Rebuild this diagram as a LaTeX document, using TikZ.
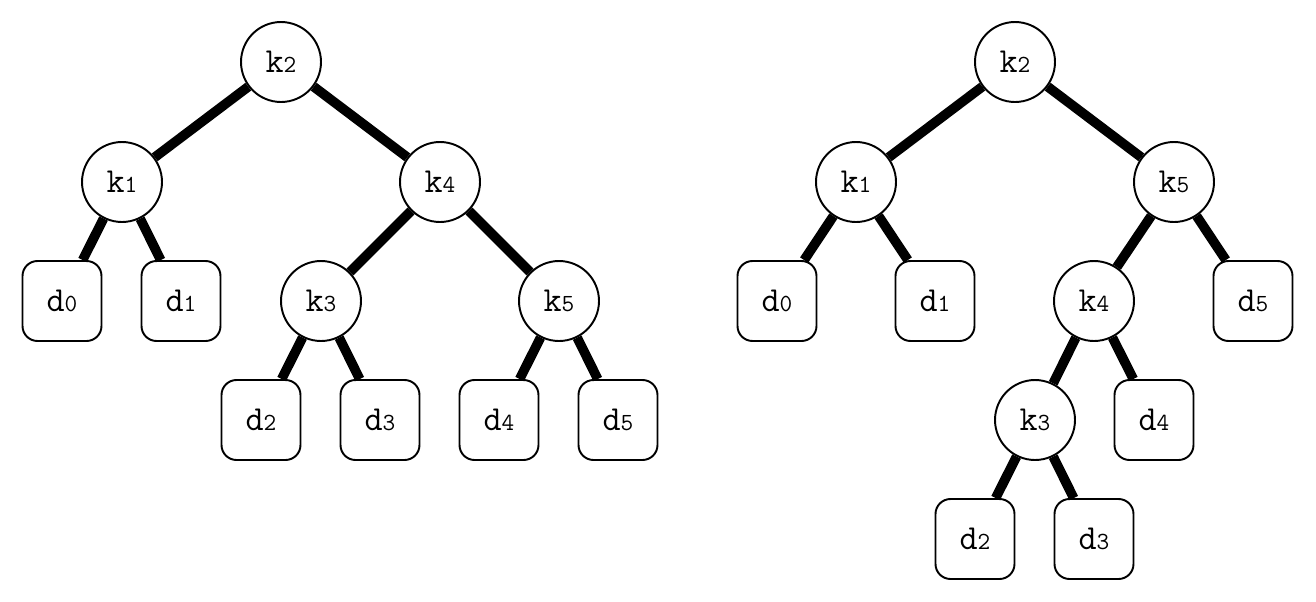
\documentclass[tikz,border=0pt]{standalone}
\usepackage{fontspec}
\usepackage{tikz}
\usetikzlibrary{positioning}
\tikzset{
    key/.style={circle, draw, line width=1.1pt, fill=white, minimum size=1.6cm, inner sep=0pt, font=\ttfamily\fontsize{20}{20}\selectfont},
    leaf/.style={rectangle, draw, line width=1.1pt, fill=white, rounded corners=0.3cm, minimum width=1.58cm, minimum height=1.6cm, inner sep=0pt, font=\ttfamily\fontsize{20}{20}\selectfont},
    edge/.style={line width=5.5pt}
}
\newcommand{\lbl}[2]{#1{\fontsize{14}{14}\selectfont#2}}

\begin{document}
\begin{tikzpicture}[x=0.02cm, y=-0.02cm]
\useasboundingbox (0,0) rectangle (1316,602);

% Left tree
\node[key] (lk2) at (281,62) {\lbl{k}{2}};
\node[key] (lk1) at (122,182) {\lbl{k}{1}};
\node[key] (lk4) at (440,182) {\lbl{k}{4}};
\node[leaf] (ld0) at (62,301) {\lbl{d}{0}};
\node[leaf] (ld1) at (181,301) {\lbl{d}{1}};
\node[key] (lk3) at (321,301) {\lbl{k}{3}};
\node[key] (lk5) at (559,301) {\lbl{k}{5}};
\node[leaf] (ld2) at (261,420) {\lbl{d}{2}};
\node[leaf] (ld3) at (380,420) {\lbl{d}{3}};
\node[leaf] (ld4) at (499,420) {\lbl{d}{4}};
\node[leaf] (ld5) at (618,420) {\lbl{d}{5}};

\draw[edge] (lk2) -- (lk1);
\draw[edge] (lk2) -- (lk4);
\draw[edge] (lk1) -- (ld0);
\draw[edge] (lk1) -- (ld1);
\draw[edge] (lk4) -- (lk3);
\draw[edge] (lk4) -- (lk5);
\draw[edge] (lk3) -- (ld2);
\draw[edge] (lk3) -- (ld3);
\draw[edge] (lk5) -- (ld4);
\draw[edge] (lk5) -- (ld5);

% Right tree
\node[key] (rk2) at (1015,62) {\lbl{k}{2}};
\node[key] (rk1) at (856,182) {\lbl{k}{1}};
\node[key] (rk5) at (1174,182) {\lbl{k}{5}};
\node[leaf] (rd0) at (777,301) {\lbl{d}{0}};
\node[leaf] (rd1) at (935,301) {\lbl{d}{1}};
\node[key] (rk4) at (1094,301) {\lbl{k}{4}};
\node[leaf] (rd5) at (1253,301) {\lbl{d}{5}};
\node[key] (rk3) at (1035,420) {\lbl{k}{3}};
\node[leaf] (rd4) at (1154,420) {\lbl{d}{4}};
\node[leaf] (rd2) at (975,539) {\lbl{d}{2}};
\node[leaf] (rd3) at (1094,539) {\lbl{d}{3}};

\draw[edge] (rk2) -- (rk1);
\draw[edge] (rk2) -- (rk5);
\draw[edge] (rk1) -- (rd0);
\draw[edge] (rk1) -- (rd1);
\draw[edge] (rk5) -- (rk4);
\draw[edge] (rk5) -- (rd5);
\draw[edge] (rk4) -- (rk3);
\draw[edge] (rk4) -- (rd4);
\draw[edge] (rk3) -- (rd2);
\draw[edge] (rk3) -- (rd3);

\end{tikzpicture}
\end{document}
